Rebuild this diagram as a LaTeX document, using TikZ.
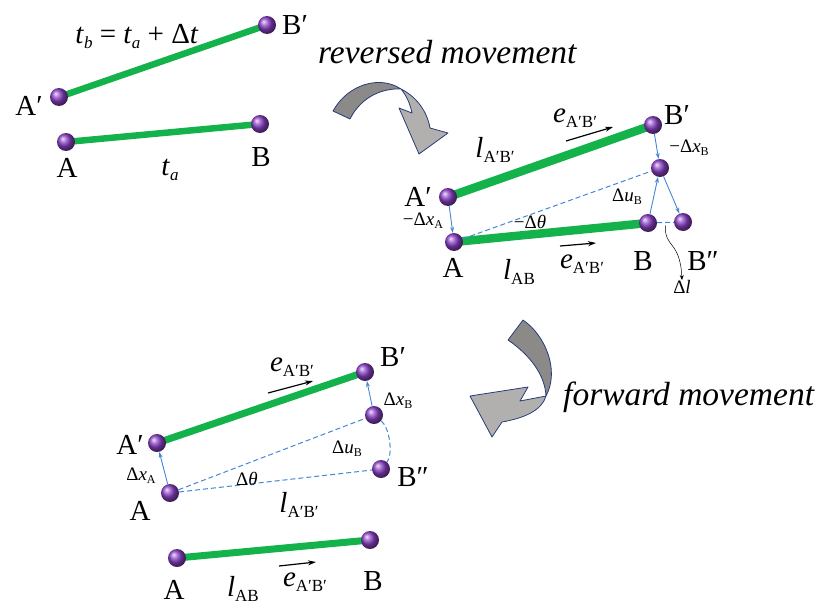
\documentclass[tikz,border=0pt]{standalone}
\usepackage{fontspec}
\setmainfont{Liberation Serif}
\usetikzlibrary{arrows.meta,backgrounds,calc}
\definecolor{barg}{RGB}{20,178,75}
\definecolor{ballc}{RGB}{140,65,200}
\definecolor{blu}{RGB}{68,134,214}
\definecolor{arrdark}{RGB}{140,137,137}
\definecolor{arrlight}{RGB}{178,175,175}
\definecolor{arredge}{RGB}{40,60,120}
\newcommand\vi[1]{\textit{#1}}
\newcommand\lsub[1]{\raisebox{-5pt}{\fontsize{17}{17}\selectfont #1}}
\newcommand\ssub[1]{\raisebox{-3pt}{\fontsize{12}{12}\selectfont #1}}
\begin{document}
\begin{tikzpicture}[x=1pt,y=-1pt,
 ball/.style={circle,minimum size=18pt,inner sep=0pt,shading=ball,ball color=ballc},
 lbl/.style={font=\fontsize{29}{29}\selectfont,inner sep=0pt},
 slbl/.style={font=\fontsize{19}{19}\selectfont,inner sep=0pt},
 mov/.style={font=\fontsize{33.5}{33.5}\selectfont\itshape,inner sep=0pt},
 bar/.style={draw=barg,line width=#1},
 bluarr/.style={draw=blu,line width=0.9pt,-{Stealth[length=6pt,width=4pt]}},
 bludash/.style={draw=blu,line width=1pt,dash pattern=on 5pt off 3pt},
 earr/.style={draw=black,line width=1.2pt,-{Stealth[length=8pt,width=5pt]}},
 bigarrow/.style={draw=arredge,line width=0.8pt,line join=round}]
\useasboundingbox (0,0) rectangle (819,605);

% ---------- top-left panel ----------
\node[ball] (tlAp) at (59,97) {};
\node[ball] (tlBp) at (267,25) {};
\node[ball] (tlA) at (66,142) {};
\node[ball] (tlB) at (260,124) {};
\node[lbl] (tlEq) at (137,37) {\vi{t}\lsub{\vi{b}} = \vi{t}\lsub{\vi{a}} + Δ\vi{t}};
\node[lbl] (tlBpL) at (295,25) {B′};
\node[lbl] (tlApL) at (29,106) {A′};
\node[lbl] (tlAL) at (67,168) {A};
\node[lbl] (tlBL) at (261,157) {B};
\node[lbl] (tlta) at (170,170) {\vi{t}\lsub{\vi{a}}};

% ---------- reversed movement ----------
\node[mov,anchor=base west] (revT) at (318,63) {reversed movement};
\fill[arrdark] (333,111) .. controls (348,84) and (380,75) .. (401,89)
   .. controls (385,88) and (362,95) .. (350,119) -- cycle;
\fill[arrlight] (401,89) .. controls (415,96) and (427,110) .. (430,128) -- (448,133) -- (419,154)
   -- (399,108) -- (412,113) .. controls (410,103) and (406,95) .. (401,89) -- cycle;
\draw[bigarrow] (333,111) .. controls (348,84) and (380,75) .. (401,89)
   .. controls (415,96) and (427,110) .. (430,128) -- (448,133) -- (419,154)
   -- (399,108) -- (412,113) .. controls (410,103) and (406,95) .. (401,89)
   .. controls (385,88) and (362,95) .. (350,119) -- cycle;

% ---------- top-right panel ----------
\node[ball] (rAp) at (448,197) {};
\node[ball] (rBp) at (653,125) {};
\node[ball] (rA) at (454,242) {};
\node[ball] (rB) at (648,223) {};
\node[ball] (rBm) at (660,168) {};
\node[ball] (rBpp) at (683,222) {};
\draw[bluarr] (rAp) -- (rA);
\draw[bluarr] (rBp) -- (rBm);
\draw[bluarr] (rB) -- (rBm);
\draw[bluarr] (rBm) -- (rBpp);
\draw[bludash] (rA) -- (rBm);
\draw[bludash] (rB) -- (rBpp);
\coordinate (dls) at ($(rB)!0.5!(rBpp)+(0,3)$);
\node[slbl,anchor=north] (rdl) at (682,280) {Δ\vi{l}};
\draw[black,line width=0.5pt,-{Stealth[length=5pt,width=4pt]}] (dls) .. controls (664,248) and (680,240) .. (rdl.north);
\node[lbl] (rBpL) at (677,115) {B′};
\node[slbl] (rdxB) at (689,148) {−Δ\vi{x}\ssub{B}};
\node[slbl] (rduB) at (627,197) {Δ\vi{u}\ssub{B}};
\node[slbl] (rdth) at (530,222) {−Δ\vi{θ}};
\node[slbl] (rdxA) at (423,221) {−Δ\vi{x}\ssub{A}};
\node[lbl] (rApL) at (418,197) {A′};
\node[lbl] (rAL) at (453,268) {A};
\node[lbl] (rlAB) at (519,272) {\vi{l}\lsub{AB}};
\node[lbl] (re2) at (582,264) {\vi{e}\lsub{A′B′}};
\coordinate (re2s) at (560,246);
\coordinate (re2e) at (596,243);
\draw[earr] (re2s) -- (re2e);
\node[lbl] (rBL) at (643,261) {B};
\node[lbl] (rBppL) at (703,261) {B″};
\node[lbl] (rlApBp) at (495,150) {\vi{l}\lsub{A′B′}};
\node[lbl] (re1) at (575,118) {\vi{e}\lsub{A′B′}};
\coordinate (re1s) at (566,141);
\coordinate (re1e) at (613,127);
\draw[earr] (re1s) -- (re1e);

% ---------- forward movement ----------
\node[mov,anchor=base west] (fwdT) at (563,405) {forward movement};
\fill[arrdark] (508,340) .. controls (530,355) and (545,375) .. (546,396)
   .. controls (560,370) and (545,335) .. (523,320) -- cycle;
\fill[arrlight] (546,396) -- (520,401) -- (528,387) -- (470,396) -- (492,437) -- (502,422)
   .. controls (525,418) and (542,410) .. (546,396) -- cycle;
\draw[bigarrow] (508,340) .. controls (530,355) and (545,375) .. (546,396)
   -- (520,401) -- (528,387) -- (470,396) -- (492,437) -- (502,422)
   .. controls (525,418) and (542,410) .. (546,396)
   .. controls (560,370) and (545,335) .. (523,320) -- cycle;

% ---------- bottom panel ----------
\node[ball] (bAp) at (157,443) {};
\node[ball] (bBp) at (365,372) {};
\node[ball] (bA) at (170,493) {};
\node[ball] (bBm) at (374,415) {};
\node[ball] (bBpp) at (381,469) {};
\node[ball] (bA2) at (177,558) {};
\node[ball] (bB2) at (370,540) {};
\draw[bluarr] (bA) -- (bAp);
\draw[bluarr] (bBm) -- (bBp);
\draw[bludash] (bA) -- (bBm);
\draw[bludash] (bA) -- (bBpp);
\draw[bludash] (bBm) .. controls (390,428) and (393,455) .. (bBpp);
\node[lbl] (bBpL) at (393,357) {B′};
\node[lbl] (be1) at (292,367) {\vi{e}\lsub{A′B′}};
\coordinate (be1s) at (268,393);
\coordinate (be1e) at (313,381);
\draw[earr] (be1s) -- (be1e);
\node[slbl] (bdxB) at (398,401) {Δ\vi{x}\ssub{B}};
\node[slbl] (bduB) at (347,449) {Δ\vi{u}\ssub{B}};
\node[lbl] (bBppL) at (413,477) {B″};
\node[lbl] (bApL) at (130,445) {A′};
\node[slbl] (bdxA) at (141,476) {Δ\vi{x}\ssub{A}};
\node[slbl] (bdth) at (247,479) {Δ\vi{θ}};
\node[lbl] (bAL) at (140,511) {A};
\node[lbl] (blApBp) at (299,505) {\vi{l}\lsub{A′B′}};
\node[lbl] (bA2L) at (174,590) {A};
\node[lbl] (blAB) at (243,589) {\vi{l}\lsub{AB}};
\node[lbl] (be2) at (305,582) {\vi{e}\lsub{A′B′}};
\coordinate (be2s) at (279,566);
\coordinate (be2e) at (316,562);
\draw[earr] (be2s) -- (be2e);
\node[lbl] (bB2L) at (373,581) {B};

% ---------- bars ----------
\begin{scope}[on background layer]
\draw[bar=6.5pt] (tlAp.center) -- (tlBp.center);
\draw[bar=6.5pt] (tlA.center) -- (tlB.center);
\draw[bar=8.5pt] (rAp.center) -- (rBp.center);
\draw[bar=8.5pt] (rA.center) -- (rB.center);
\draw[bar=7pt] (bAp.center) -- (bBp.center);
\draw[bar=7pt] (bA2.center) -- (bB2.center);
\end{scope}
\end{tikzpicture}
\end{document}
